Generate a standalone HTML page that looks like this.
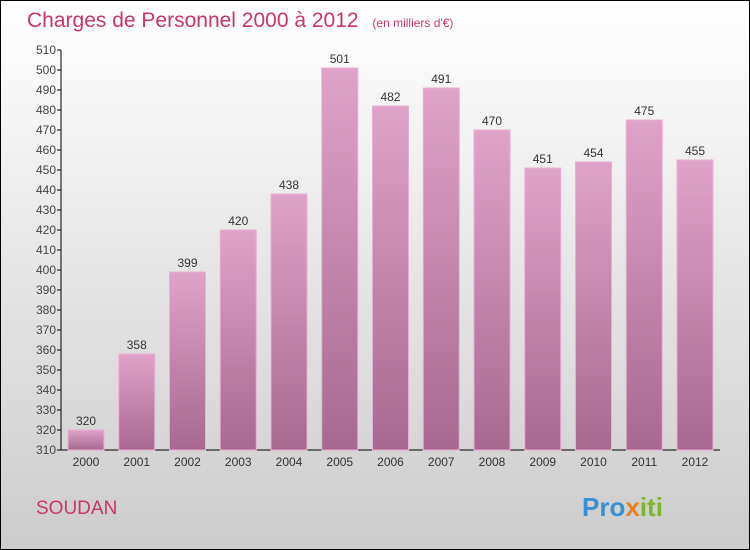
<!DOCTYPE html>
<html><head><meta charset="utf-8"><style>
body{margin:0}
#wrap{width:750px;height:550px;position:relative;overflow:hidden;font-family:"Liberation Sans",sans-serif}
</style></head><body>
<div id="wrap">
<svg id="svg" width="750" height="550" xmlns="http://www.w3.org/2000/svg">
<defs>
<linearGradient id="bg" x1="0" y1="0" x2="0" y2="1"><stop offset="0" stop-color="#ffffff"/><stop offset="1" stop-color="#cccccc"/></linearGradient>
<linearGradient id="bar" x1="0" y1="0" x2="0" y2="1"><stop offset="0" stop-color="#e0a3c8"/><stop offset="1" stop-color="#a8688f"/></linearGradient>
</defs>
<rect x="0.5" y="0.5" width="749" height="549" fill="url(#bg)" stroke="#000"/>
<text x="27" y="27" font-size="21" fill="#c8356a">Charges de Personnel 2000 à 2012 <tspan font-size="12" dx="8">(en milliers d'€)</tspan></text>
<text x="36" y="514" font-size="19" fill="#c8356a">SOUDAN</text>
<text x="582" y="516" font-size="26" font-weight="bold" fill="#3a8fd0">Pro<tspan fill="#e8801e">x</tspan><tspan fill="#7ab829">iti</tspan></text>
<g id="axes"></g><g id="bars"></g>
</svg>
</div>
<script>
const years=["2000","2001","2002","2003","2004","2005","2006","2007","2008","2009","2010","2011","2012"];
const values=[320,358,399,420,438,501,482,491,470,451,454,475,455];
const ticks=[310,320,330,340,350,360,370,380,390,400,410,420,430,440,450,460,470,480,490,500,510];
const NS="http://www.w3.org/2000/svg";
const y=v=>450-(v-310)*2;
const x=i=>86+i*50.75;
function mk(t,a,p){const e=document.createElementNS(NS,t);for(const k in a)e.setAttribute(k,a[k]);p.appendChild(e);return e;}
const ax=document.getElementById('axes'),bg=document.getElementById('bars');
const yl=mk('line',{x1:61,y1:50,x2:61,y2:450,stroke:'#000'},ax);


const xl=mk('line',{x1:61,y1:450,x2:720,y2:450,stroke:'#000'},ax);


ticks.forEach(t=>{
 mk('line',{x1:57,y1:y(t),x2:61,y2:y(t),stroke:'#000'},ax);
 const tx=mk('text',{x:56,y:y(t)+4,'font-size':12,'text-anchor':'end',fill:'#444'},ax);
 tx.textContent=t;
 
 
});
values.forEach((v,i)=>{
 const r=mk('rect',{x:x(i)-18,y:y(v),width:36,height:450-y(v),fill:'url(#bar)',stroke:'#e8b0d4','stroke-width':1},bg);
 
 
 const l=mk('text',{x:x(i),y:y(v)-5,'font-size':12,'text-anchor':'middle',fill:'#333'},bg);
 l.textContent=v;
 
 
 const xt=mk('text',{x:x(i),y:466,'font-size':12,'text-anchor':'middle',fill:'#333'},bg);
 xt.textContent=years[i];
 
 
});
</script>
</body></html>
